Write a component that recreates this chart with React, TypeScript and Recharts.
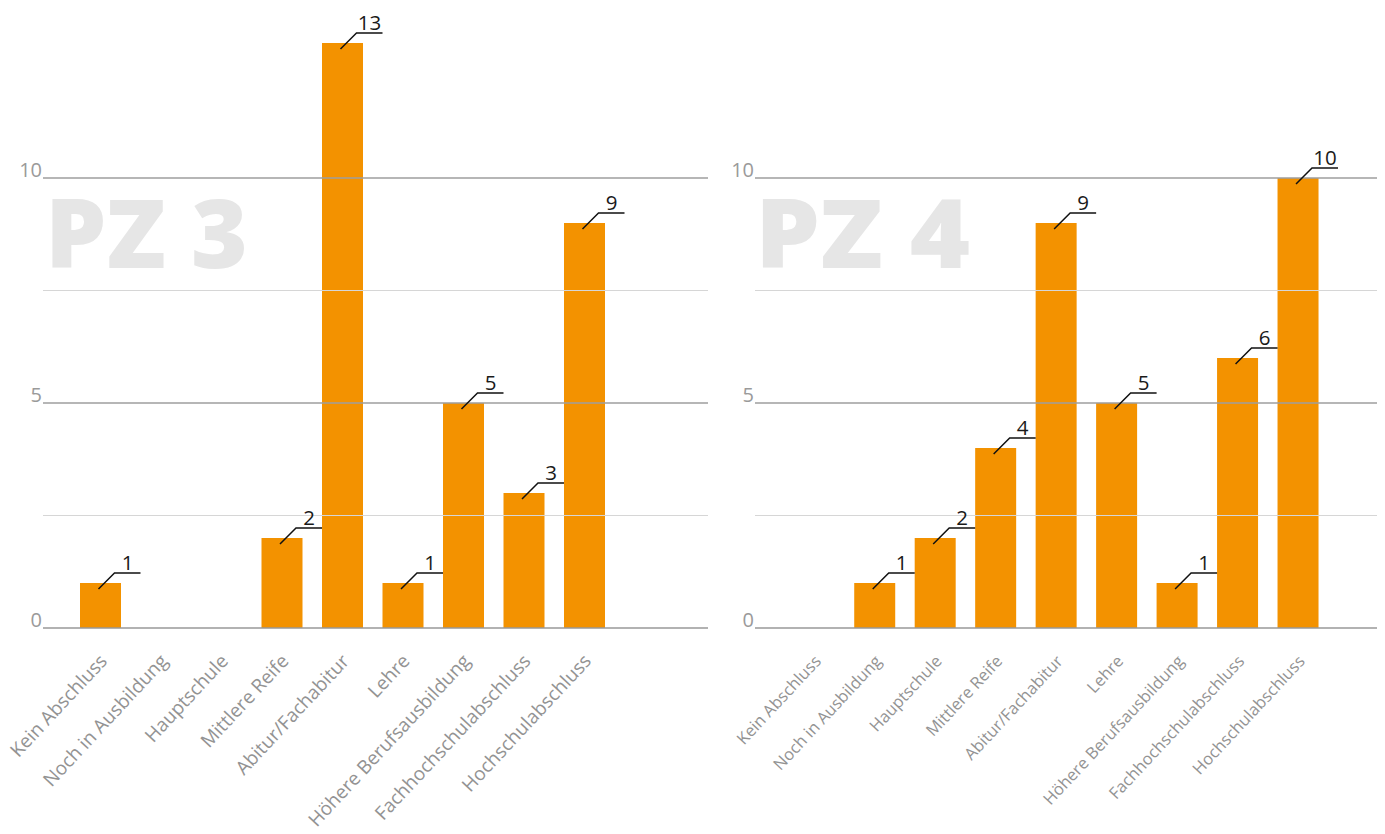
import React from "react";
import {
  BarChart,
  Bar,
  XAxis,
  YAxis,
  ReferenceLine,
  LabelList,
} from "recharts";

const categories = [
  "Kein Abschluss",
  "Noch in Ausbildung",
  "Hauptschule",
  "Mittlere Reife",
  "Abitur/Fachabitur",
  "Lehre",
  "Höhere Berufsausbildung",
  "Fachhochschulabschluss",
  "Hochschulabschluss",
];
const pz3Values = [1, 0, 0, 2, 13, 1, 5, 3, 9];
const pz4Values = [0, 1, 2, 4, 9, 5, 1, 6, 10];
const yTicks = [0, 5, 10];
const majorGrid = [5, 10];
const minorGrid = [2.5, 7.5];

const FONT = "'Open Sans', sans-serif";
const ORANGE = "#f39200";

function ValueLabel(props: any) {
  const { x, y, width, value } = props;
  if (!value) return null;
  const cx = x + width / 2;
  return (
    <g>
      <polyline
        points={`${cx - 2},${y + 6} ${cx + 14},${y - 10} ${cx + 40},${y - 10}`}
        fill="none"
        stroke="#111"
        strokeWidth={1.5}
      />
      <text x={cx + 27} y={y - 13} textAnchor="middle" fontSize={20.5} fill="#1a1a1a" fontFamily={FONT}>
        {value}
      </text>
    </g>
  );
}

function YTick(props: any) {
  const { x, y, payload } = props;
  return (
    <text x={x - 1} y={y - 1} textAnchor="end" fontSize={20} fill="#9a9a9a" fontFamily={FONT}>
      {payload.value}
    </text>
  );
}

function makeXTick(fontSize: number) {
  return (props: any) => {
    const { x, y, payload } = props;
    const px = x + 8;
    const py = y + 34;
    return (
      <text
        x={px}
        y={py}
        textAnchor="end"
        fontSize={fontSize}
        fill="#939393"
        fontFamily={FONT}
        transform={`rotate(-47, ${px}, ${py})`}
      >
        {payload.value}
      </text>
    );
  };
}

function Panel({
  title,
  values,
  left,
  width,
  padLeft,
  padRight,
  labelSize,
  markX,
  markWidth,
}: {
  title: string;
  values: number[];
  left: number;
  width: number;
  padLeft: number;
  padRight: number;
  labelSize: number;
  markX: number;
  markWidth: number;
}) {
  const data = categories.map((name, i) => ({ name, value: values[i] }));
  return (
    <div style={{ position: "absolute", left, top: 0, width, height: 834 }}>
      <svg width={width} height={834} style={{ position: "absolute", left: 0, top: 0 }}>
        <text
          x={markX}
          y={268}
          fontSize={96}
          fontWeight={800}
          fill="#e6e6e6"
          fontFamily={FONT}
          textLength={markWidth}
          lengthAdjust="spacingAndGlyphs"
        >
          {title}
        </text>
      </svg>
      <div style={{ position: "absolute", left: 0, top: 0 }}>
        <BarChart
          width={width}
          height={834}
          data={data}
          margin={{ top: 43, right: left === 0 ? 2 : 8, bottom: 0, left: 0 }}
        >
          <YAxis
            width={43}
            domain={[0, 13]}
            ticks={yTicks}
            axisLine={false}
            tickLine={false}
            tickSize={0}
            tickMargin={0}
            tick={<YTick />}
          />
          <XAxis
            dataKey="name"
            height={206}
            interval={0}
            tickLine={false}
            tickSize={0}
            tickMargin={0}
            axisLine={{ stroke: "#999", strokeWidth: 1.5 }}
            padding={{ left: padLeft, right: padRight }}
            tick={makeXTick(labelSize)}
          />
          {minorGrid.map((v) => (
            <ReferenceLine key={`mi${v}`} y={v} stroke="#d6d6d6" strokeWidth={1} />
          ))}
          {majorGrid.map((v) => (
            <ReferenceLine key={`ma${v}`} y={v} stroke="#9e9e9e" strokeWidth={1.5} />
          ))}
          <Bar dataKey="value" fill={ORANGE} barSize={41} isAnimationActive={false}>
            <LabelList dataKey="value" content={<ValueLabel />} />
          </Bar>
        </BarChart>
      </div>
    </div>
  );
}

export default function App() {
  return (
    <div style={{ position: "absolute", left: 0, top: 0, width: 1385, height: 834, background: "#fff" }}>
      <Panel
        title="PZ 3"
        values={pz3Values}
        left={0}
        width={710}
        padLeft={27}
        padRight={93.5}
        labelSize={19}
        markX={45}
        markWidth={203}
      />
      <Panel
        title="PZ 4"
        values={pz4Values}
        left={712}
        width={673}
        padLeft={28.75}
        padRight={49}
        labelSize={16.5}
        markX={43}
        markWidth={215}
      />
    </div>
  );
}
